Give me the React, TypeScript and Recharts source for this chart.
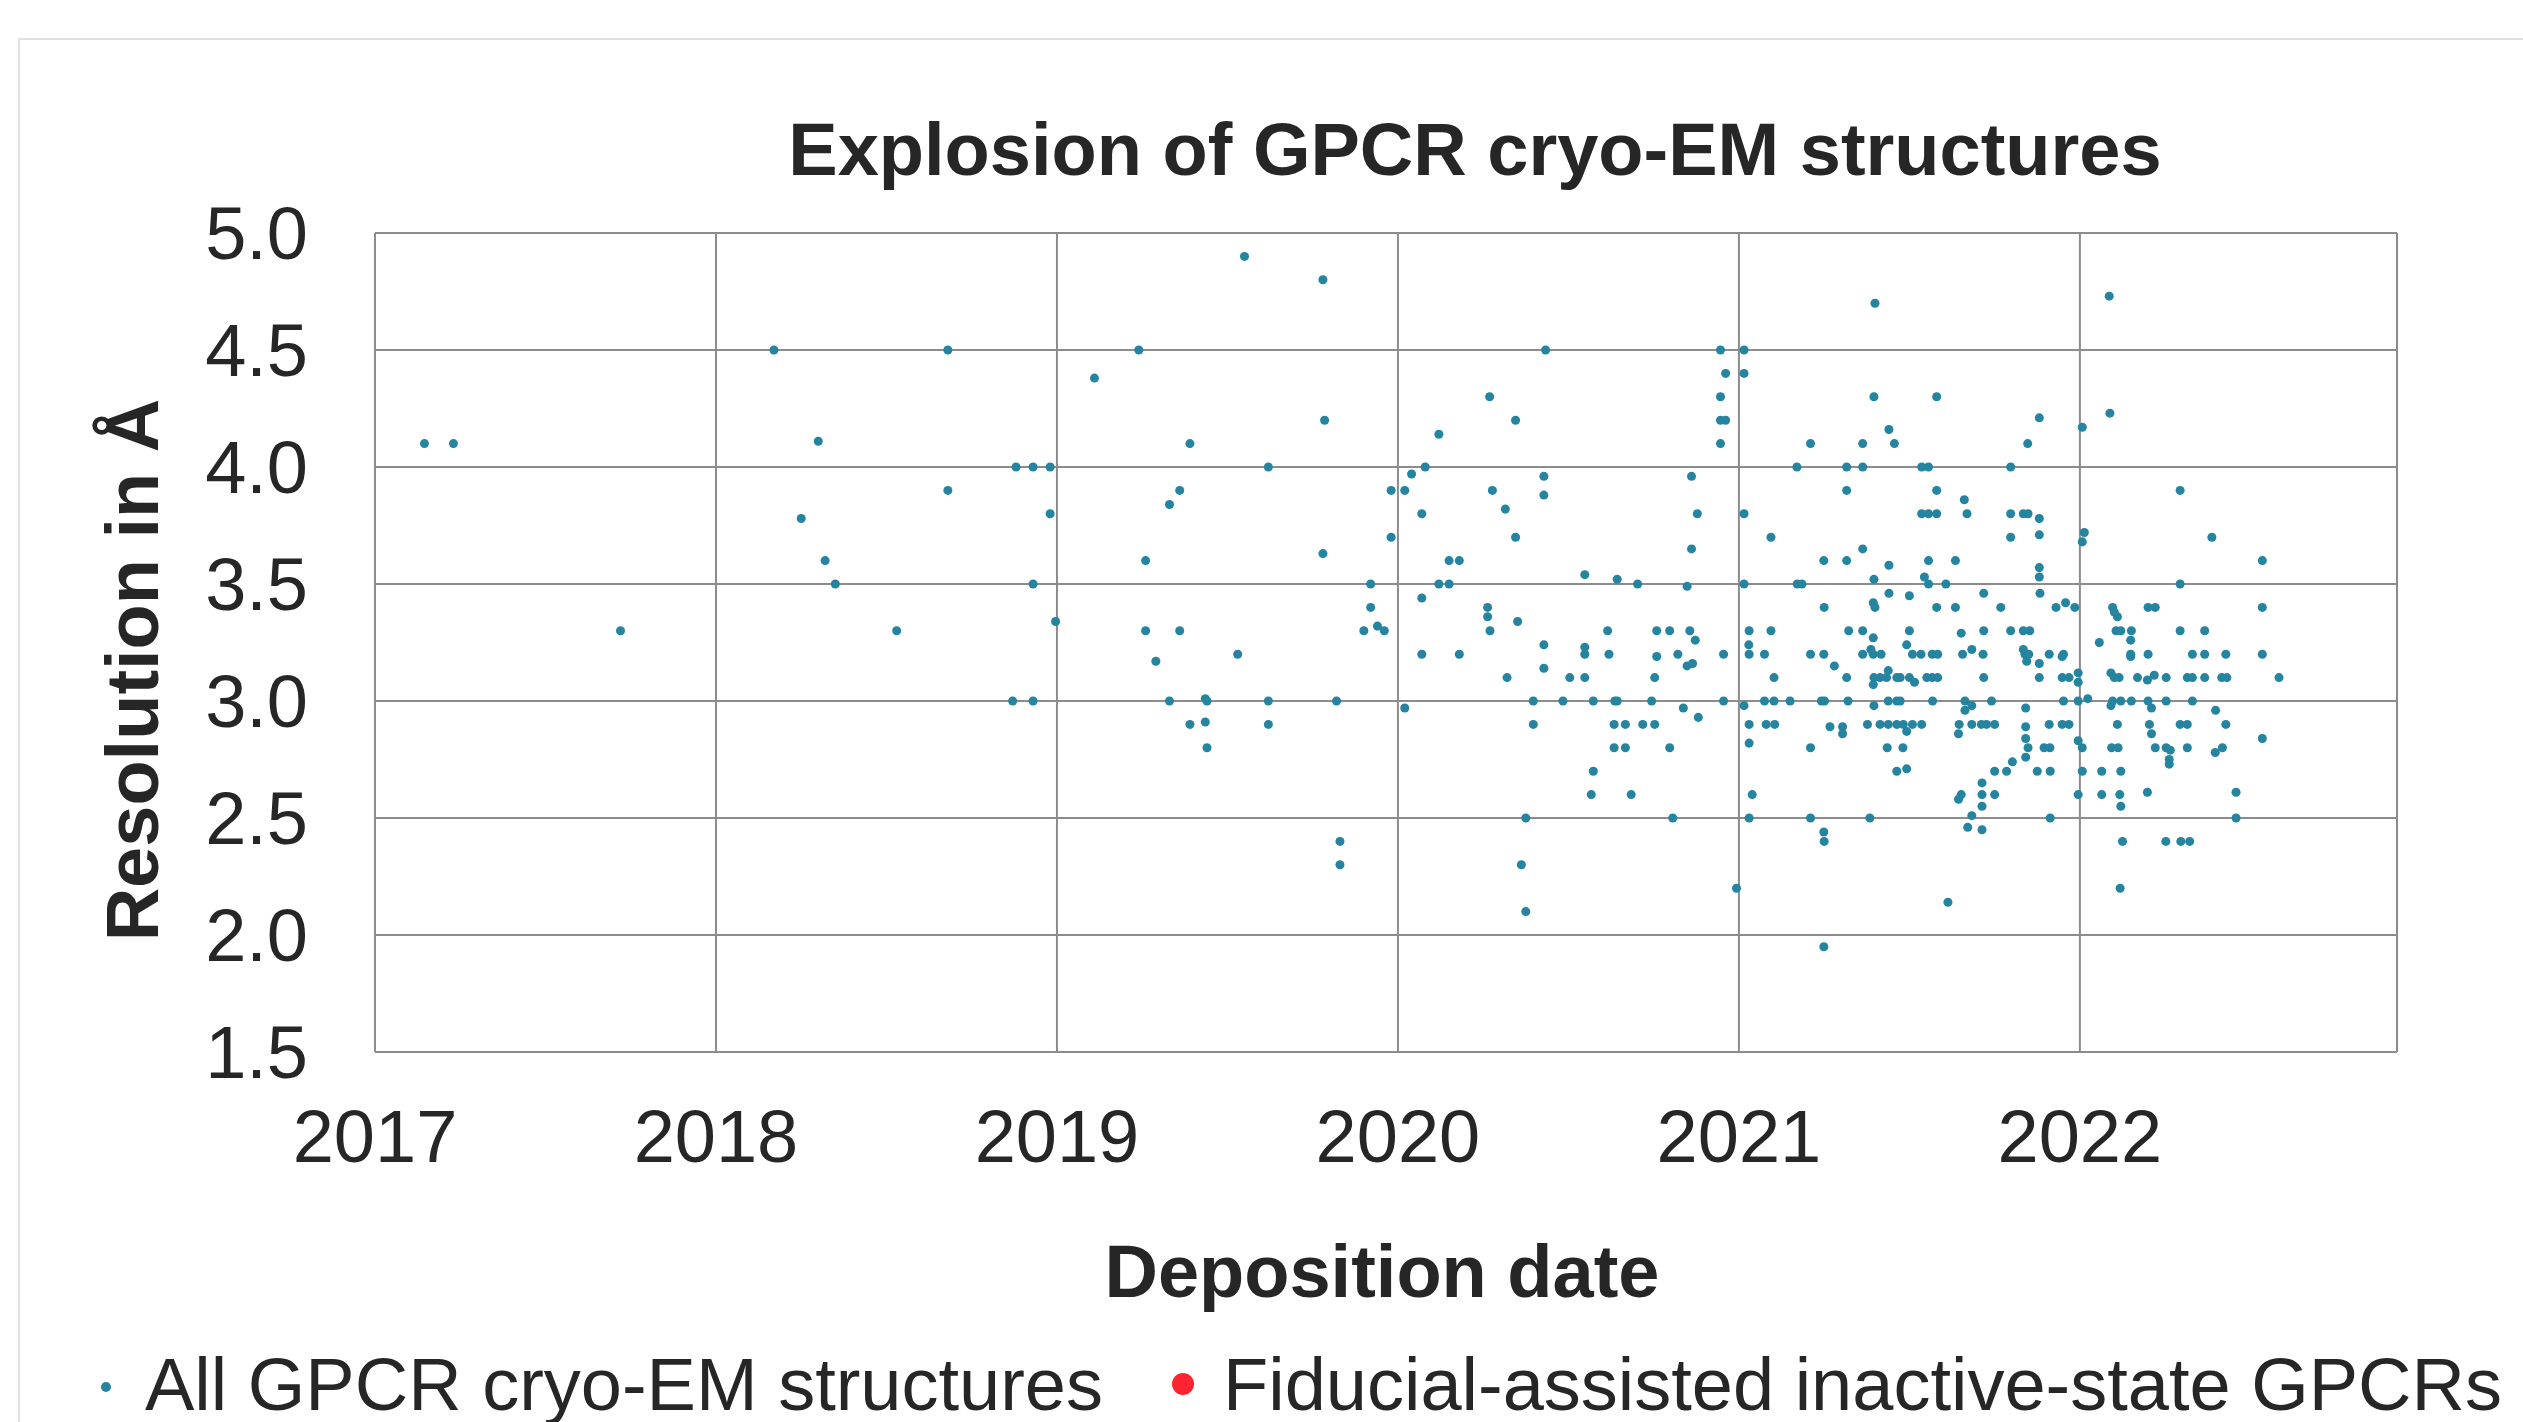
import { ScatterChart, Scatter, XAxis, YAxis, ZAxis, CartesianGrid, Legend } from "recharts";

const FONT = '"Liberation Sans", Arial, sans-serif';
const TEXT = "#262626";
const GRID = "#8c8c8c";

const yearTicks = [2017, 2018, 2019, 2020, 2021, 2022];
const resolutionTicks = [1.5, 2.0, 2.5, 3.0, 3.5, 4.0, 4.5, 5.0];

// [deposition date as decimal year, resolution in Å]
const points2017 = [
  [2017.145, 4.1], [2017.23, 4.1], [2017.72, 3.3],
];

const points2018 = [
  [2018.17, 4.5], [2018.25, 3.78], [2018.3, 4.11], [2018.32, 3.6], [2018.35, 3.5], [2018.53, 3.3],
  [2018.68, 4.5], [2018.68, 3.9], [2018.87, 3.0], [2018.88, 4.0], [2018.93, 4.0], [2018.93, 3.5],
  [2018.93, 3.0], [2018.98, 4.0], [2018.98, 3.8], [2018.996, 3.34],
];

const points2019 = [
  [2019.55, 4.9], [2019.78, 4.8], [2019.24, 4.5], [2019.11, 4.38], [2019.785, 4.2], [2019.39, 4.1],
  [2019.62, 4.0], [2019.98, 3.9], [2019.36, 3.9], [2019.33, 3.84], [2019.98, 3.7], [2019.26, 3.6],
  [2019.78, 3.63], [2019.92, 3.5], [2019.92, 3.4], [2019.94, 3.32], [2019.9, 3.3], [2019.96, 3.3],
  [2019.26, 3.3], [2019.36, 3.3], [2019.29, 3.17], [2019.53, 3.2], [2019.33, 3.0], [2019.435, 3.01],
  [2019.44, 3.0], [2019.62, 3.0], [2019.82, 3.0], [2019.39, 2.9], [2019.435, 2.91], [2019.62, 2.9],
  [2019.44, 2.8], [2019.83, 2.4], [2019.83, 2.3],
];

const points2020 = [
  [2020.12, 4.14], [2020.08, 4.0], [2020.04, 3.97], [2020.02, 3.9], [2020.07, 3.8], [2020.15, 3.6],
  [2020.18, 3.6], [2020.12, 3.5], [2020.15, 3.5], [2020.07, 3.44], [2020.07, 3.2], [2020.18, 3.2],
  [2020.02, 2.97], [2020.433, 4.5], [2020.269, 4.3], [2020.345, 4.2], [2020.277, 3.9], [2020.428, 3.96],
  [2020.428, 3.88], [2020.315, 3.82], [2020.345, 3.7], [2020.263, 3.4], [2020.263, 3.36], [2020.27, 3.3],
  [2020.351, 3.34], [2020.428, 3.24], [2020.428, 3.14], [2020.32, 3.1], [2020.504, 3.1], [2020.397, 3.0],
  [2020.484, 3.0], [2020.397, 2.9], [2020.375, 2.5], [2020.362, 2.3], [2020.375, 2.1], [2020.548, 3.54],
  [2020.548, 3.23], [2020.548, 3.2], [2020.548, 3.1], [2020.573, 3.0], [2020.573, 2.7], [2020.567, 2.6],
  [2020.615, 3.3], [2020.619, 3.2], [2020.636, 3.0], [2020.643, 3.0], [2020.643, 3.52], [2020.634, 2.9],
  [2020.667, 2.9], [2020.634, 2.8], [2020.667, 2.8], [2020.684, 2.6], [2020.703, 3.5], [2020.718, 2.9],
  [2020.744, 3.0], [2020.753, 2.9], [2020.753, 3.1], [2020.759, 3.3], [2020.759, 3.19], [2020.797, 3.3],
  [2020.797, 2.8], [2020.806, 2.5], [2020.821, 3.2], [2020.837, 2.97], [2020.848, 3.49], [2020.856, 3.3],
  [2020.872, 3.26], [2020.848, 3.15], [2020.864, 3.16], [2020.861, 3.96], [2020.878, 3.8], [2020.861, 3.65],
  [2020.881, 2.93], [2020.946, 4.5], [2020.961, 4.4], [2020.946, 4.3], [2020.946, 4.2], [2020.961, 4.2],
  [2020.946, 4.1], [2020.955, 3.2], [2020.955, 3.0], [2020.993, 2.2],
];

const points2021 = [
  [2021.015, 4.5], [2021.015, 4.4], [2021.015, 3.8], [2021.015, 3.5], [2021.015, 2.98], [2021.21, 4.1],
  [2021.17, 4.0], [2021.316, 4.0], [2021.316, 3.9], [2021.094, 3.7], [2021.249, 3.6], [2021.316, 3.6],
  [2021.171, 3.5], [2021.185, 3.5], [2021.25, 3.4], [2021.03, 3.3], [2021.094, 3.3], [2021.322, 3.3],
  [2021.029, 3.24], [2021.03, 3.2], [2021.075, 3.2], [2021.21, 3.2], [2021.249, 3.2], [2021.28, 3.15],
  [2021.103, 3.1], [2021.316, 3.1], [2021.075, 3.0], [2021.103, 3.0], [2021.15, 3.0], [2021.242, 3.0],
  [2021.251, 3.0], [2021.32, 3.0], [2021.03, 2.9], [2021.08, 2.9], [2021.105, 2.9], [2021.267, 2.89],
  [2021.304, 2.89], [2021.304, 2.86], [2021.03, 2.82], [2021.21, 2.8], [2021.039, 2.6], [2021.03, 2.5],
  [2021.21, 2.5], [2021.249, 2.44], [2021.25, 2.4], [2021.249, 1.95],
  [2021.399, 4.7], [2021.396, 4.3], [2021.58, 4.3], [2021.44, 4.16], [2021.363, 4.1], [2021.456, 4.1],
  [2021.363, 4.0], [2021.536, 4.0], [2021.556, 4.0], [2021.58, 3.9], [2021.661, 3.86], [2021.669, 3.8],
  [2021.536, 3.8], [2021.556, 3.8], [2021.58, 3.8], [2021.363, 3.65], [2021.44, 3.58], [2021.556, 3.6],
  [2021.635, 3.6], [2021.396, 3.52], [2021.544, 3.53], [2021.556, 3.5], [2021.607, 3.5], [2021.44, 3.46],
  [2021.5, 3.45], [2021.394, 3.42], [2021.399, 3.4], [2021.58, 3.4], [2021.635, 3.4], [2021.363, 3.3],
  [2021.5, 3.3], [2021.652, 3.29], [2021.394, 3.27], [2021.492, 3.24], [2021.363, 3.2], [2021.387, 3.22],
  [2021.394, 3.2], [2021.417, 3.2], [2021.509, 3.2], [2021.534, 3.2], [2021.567, 3.2], [2021.583, 3.2],
  [2021.656, 3.2], [2021.683, 3.22], [2021.438, 3.13], [2021.396, 3.1], [2021.414, 3.1], [2021.433, 3.1],
  [2021.463, 3.1], [2021.473, 3.1], [2021.5, 3.1], [2021.515, 3.08], [2021.551, 3.1], [2021.567, 3.1],
  [2021.583, 3.1], [2021.394, 3.07], [2021.396, 2.98], [2021.438, 3.0], [2021.463, 3.0], [2021.473, 3.0],
  [2021.568, 3.0], [2021.663, 3.0], [2021.683, 2.98], [2021.663, 2.96], [2021.377, 2.9], [2021.414, 2.9],
  [2021.438, 2.9], [2021.463, 2.9], [2021.482, 2.9], [2021.509, 2.9], [2021.536, 2.9], [2021.492, 2.87],
  [2021.646, 2.9], [2021.644, 2.86], [2021.683, 2.9], [2021.435, 2.8], [2021.481, 2.8], [2021.463, 2.7],
  [2021.492, 2.71], [2021.652, 2.6], [2021.644, 2.58], [2021.384, 2.5], [2021.683, 2.51], [2021.671, 2.46],
  [2021.613, 2.14],
  [2021.881, 4.21], [2021.847, 4.1], [2021.797, 4.0], [2021.797, 3.8], [2021.834, 3.8], [2021.848, 3.8],
  [2021.881, 3.78], [2021.797, 3.7], [2021.881, 3.71], [2021.881, 3.57], [2021.881, 3.53], [2021.718, 3.46],
  [2021.883, 3.46], [2021.768, 3.4], [2021.93, 3.4], [2021.958, 3.42], [2021.985, 3.4], [2021.718, 3.3],
  [2021.797, 3.3], [2021.834, 3.3], [2021.853, 3.3], [2021.716, 3.2], [2021.834, 3.22], [2021.839, 3.2],
  [2021.85, 3.2], [2021.844, 3.17], [2021.881, 3.16], [2021.91, 3.2], [2021.948, 3.19], [2021.952, 3.2],
  [2021.718, 3.1], [2021.881, 3.1], [2021.948, 3.1], [2021.968, 3.1], [2021.995, 3.12], [2021.995, 3.08],
  [2021.741, 3.0], [2021.841, 2.97], [2021.952, 3.0], [2021.995, 3.0], [2021.711, 2.9], [2021.726, 2.9],
  [2021.75, 2.9], [2021.841, 2.89], [2021.91, 2.9], [2021.948, 2.9], [2021.968, 2.9], [2021.841, 2.84],
  [2021.848, 2.8], [2021.841, 2.76], [2021.895, 2.8], [2021.912, 2.8], [2021.995, 2.83], [2021.802, 2.74],
  [2021.75, 2.7], [2021.785, 2.7], [2021.875, 2.7], [2021.913, 2.7], [2021.713, 2.65], [2021.713, 2.6],
  [2021.75, 2.6], [2021.995, 2.6], [2021.713, 2.55], [2021.713, 2.45], [2021.913, 2.5],
];

const points2022 = [
  [2022.007, 4.17], [2022.013, 3.72], [2022.007, 3.68], [2022.023, 3.01], [2022.007, 2.8], [2022.007, 2.7],
  [2022.086, 4.73], [2022.088, 4.23], [2022.294, 3.9], [2022.294, 3.5], [2022.096, 3.4], [2022.101, 3.38],
  [2022.11, 3.36], [2022.2, 3.4], [2022.221, 3.4], [2022.106, 3.3], [2022.12, 3.3], [2022.151, 3.3],
  [2022.149, 3.26], [2022.294, 3.3], [2022.366, 3.3], [2022.057, 3.25], [2022.149, 3.2], [2022.149, 3.19],
  [2022.2, 3.2], [2022.33, 3.2], [2022.366, 3.2], [2022.091, 3.12], [2022.101, 3.1], [2022.115, 3.1],
  [2022.169, 3.1], [2022.198, 3.09], [2022.218, 3.11], [2022.253, 3.1], [2022.315, 3.1], [2022.33, 3.1],
  [2022.366, 3.1], [2022.091, 2.98], [2022.096, 3.0], [2022.12, 3.0], [2022.151, 3.0], [2022.2, 3.0],
  [2022.21, 2.97], [2022.253, 3.0], [2022.33, 3.0], [2022.11, 2.9], [2022.204, 2.9], [2022.21, 2.86],
  [2022.294, 2.9], [2022.315, 2.9], [2022.093, 2.8], [2022.112, 2.8], [2022.221, 2.8], [2022.253, 2.8],
  [2022.265, 2.79], [2022.262, 2.75], [2022.262, 2.73], [2022.315, 2.8], [2022.064, 2.7], [2022.12, 2.7],
  [2022.064, 2.6], [2022.117, 2.6], [2022.12, 2.55], [2022.198, 2.61], [2022.125, 2.4], [2022.252, 2.4],
  [2022.296, 2.4], [2022.322, 2.4], [2022.118, 2.2],
  [2022.387, 3.7], [2022.535, 3.6], [2022.535, 3.4], [2022.428, 3.2], [2022.535, 3.2], [2022.416, 3.1],
  [2022.431, 3.1], [2022.584, 3.1], [2022.398, 2.96], [2022.428, 2.9], [2022.535, 2.84], [2022.397, 2.78],
  [2022.418, 2.8], [2022.458, 2.61], [2022.458, 2.5],
];

// no fiducial-assisted inactive-state points are visible in the plot
const fiducialPoints: number[][] = [];

const toRows = (pts: number[][]) => pts.map(([date, resolution]) => ({ date, resolution }));

const allStructures = toRows([...points2017, ...points2018, ...points2019, ...points2020, ...points2021, ...points2022]);
const fiducialStructures = toRows(fiducialPoints);

function LegendContent(props: any) {
  const items = props.payload || [];
  const spots = [
    { cx: 106, cy: 47, r: 5, tx: 145 },
    { cx: 1183, cy: 44, r: 11, tx: 1223 },
  ];
  return (
    <svg width={2523} height={82} style={{ display: "block" }}>
      {items.map((item: any, i: number) => (
        <g key={item.value}>
          <circle cx={spots[i].cx} cy={spots[i].cy} r={spots[i].r} fill={item.color} />
          <text x={spots[i].tx} y={70} fontSize={74} fontFamily={FONT} fill={TEXT}>
            {item.value}
          </text>
        </g>
      ))}
    </svg>
  );
}

export default function App() {
  return (
    <div style={{ position: "absolute", left: 0, top: 0, width: 2523, height: 1422, overflow: "hidden", background: "#fff" }}>
      <div
        style={{
          position: "absolute",
          left: 18,
          top: 38,
          width: 3000,
          height: 2000,
          border: "2px solid #e0e0e0",
        }}
      />
      <div style={{ position: "absolute", left: 0, top: 0 }}>
        <ScatterChart width={2523} height={1422} margin={{ top: 233, right: 126, bottom: 0, left: 0 }}>
          <CartesianGrid stroke={GRID} strokeWidth={2} />
          <XAxis
            type="number"
            dataKey="date"
            domain={[2017, 2022.93]}
            ticks={yearTicks}
            allowDataOverflow
            height={370}
            tickLine={false}
            tickSize={0}
            tickMargin={57}
            axisLine={{ stroke: GRID, strokeWidth: 2 }}
            tick={{ fill: TEXT, fontSize: 74, fontFamily: FONT }}
            tickFormatter={(v: number) => String(Math.round(v))}
          />
          <YAxis
            type="number"
            dataKey="resolution"
            domain={[1.5, 5]}
            ticks={resolutionTicks}
            allowDataOverflow
            width={375}
            tickLine={false}
            tickSize={0}
            tickMargin={67}
            axisLine={{ stroke: GRID, strokeWidth: 2 }}
            tick={{ fill: TEXT, fontSize: 74, fontFamily: FONT }}
            tickFormatter={(v: number) => v.toFixed(1)}
          />
          <ZAxis range={[95, 95]} />
          <Legend
            layout="horizontal"
            verticalAlign="middle"
            align="center"
            wrapperStyle={{ left: 0, top: 1340, width: 2523, height: 82 }}
            content={<LegendContent />}
          />
          <Scatter
            name="All GPCR cryo-EM structures"
            data={allStructures}
            fill="#25849f"
            isAnimationActive={false}
          />
          <Scatter
            name="Fiducial-assisted inactive-state GPCRs"
            data={fiducialStructures}
            fill="#fe2431"
            isAnimationActive={false}
          />
          <text x={1475} y={175} textAnchor="middle" fontSize={74} fontWeight="bold" fontFamily={FONT} fill={TEXT}>
            Explosion of GPCR cryo-EM structures
          </text>
          <text x={1382} y={1297} textAnchor="middle" fontSize={74} fontWeight="bold" fontFamily={FONT} fill={TEXT}>
            Deposition date
          </text>
          <text
            x={158}
            y={670}
            transform="rotate(-90, 158, 670)"
            textAnchor="middle"
            fontSize={74}
            fontWeight="bold"
            fontFamily={FONT}
            fill={TEXT}
          >
            Resolution in Å
          </text>
        </ScatterChart>
      </div>
    </div>
  );
}
